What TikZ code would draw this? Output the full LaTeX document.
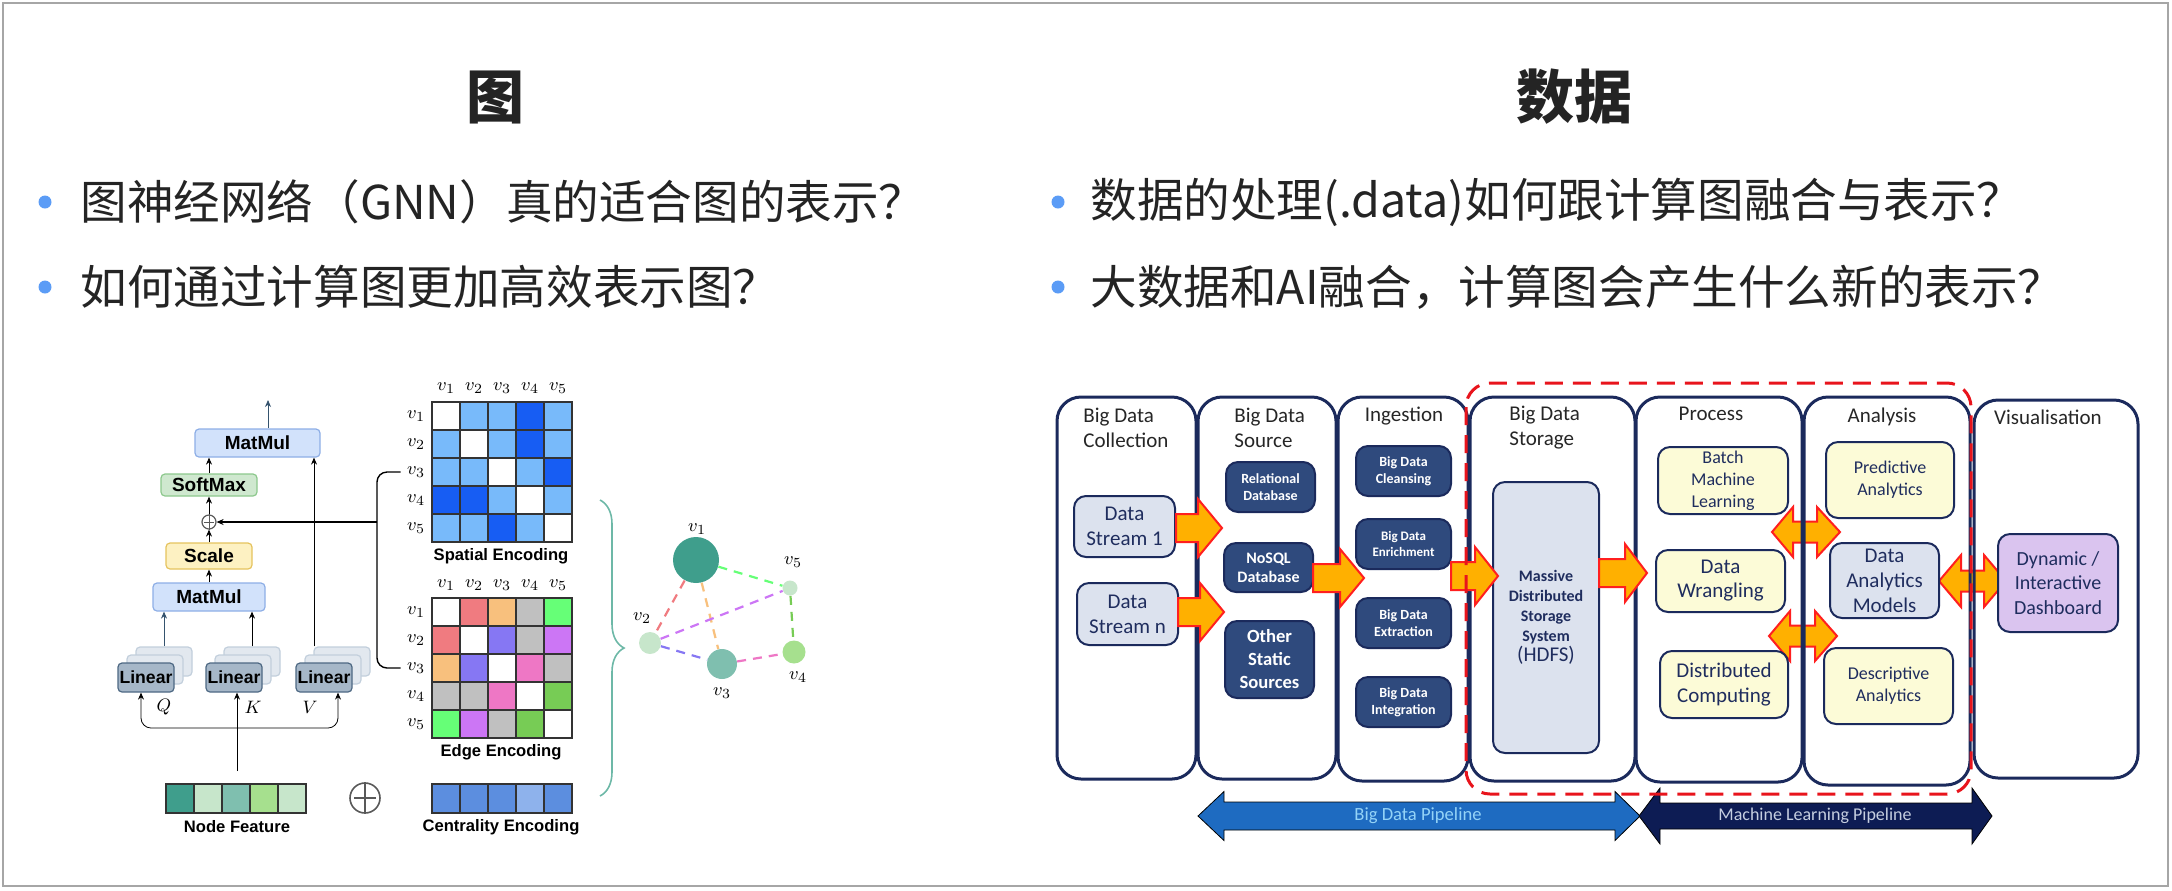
\documentclass[tikz,border=0pt]{standalone}
\usepackage{fontspec}
\usetikzlibrary{arrows.meta, decorations.pathreplacing, positioning}

\newfontfamily\cjk{Noto Sans CJK SC}
\newfontfamily\gfont{Liberation Sans}
\newfontfamily\pfont{Carlito}

\definecolor{ink}{HTML}{242424}
\definecolor{bulletblue}{HTML}{5B9CF6}
\definecolor{mmfill}{HTML}{D2E2FB}
\definecolor{mmedge}{HTML}{8DAEE6}
\definecolor{smfill}{HTML}{CFE8CF}
\definecolor{smedge}{HTML}{8CC88C}
\definecolor{scfill}{HTML}{FDF1C2}
\definecolor{scedge}{HTML}{E5C35E}
\definecolor{linfill}{HTML}{A6B7C8}
\definecolor{linedge}{HTML}{4D6883}
\definecolor{linback}{HTML}{E2E8EF}
\definecolor{linbackedge}{HTML}{C2CFDC}
\definecolor{qarrow}{HTML}{35536E}
\definecolor{nfA}{HTML}{3F9E8C}
\definecolor{nfB}{HTML}{C7E6CB}
\definecolor{nfC}{HTML}{7FBFAF}
\definecolor{nfD}{HTML}{A6E08E}
\definecolor{ceA}{HTML}{5C8EDF}
\definecolor{ceB}{HTML}{8EB2EC}
\definecolor{sL}{HTML}{78BAFA}
\definecolor{sD}{HTML}{175DF3}
\definecolor{eR}{HTML}{F07B80}
\definecolor{eO}{HTML}{F8C07D}
\definecolor{eG}{HTML}{C0C0C0}
\definecolor{eL}{HTML}{66FF77}
\definecolor{eB}{HTML}{8677F3}
\definecolor{eV}{HTML}{CC76F5}
\definecolor{eP}{HTML}{EE77C5}
\definecolor{eM}{HTML}{77CC55}
\definecolor{bracecol}{HTML}{6DB8A7}
\definecolor{navy}{HTML}{1B2A5C}
\definecolor{navytext}{HTML}{1F2D5E}
\definecolor{darkbox}{HTML}{2F4A7D}
\definecolor{lightbox}{HTML}{DCE2EE}
\definecolor{yellowbox}{HTML}{FCFBD7}
\definecolor{lavender}{HTML}{DAC4EF}
\definecolor{orangefill}{HTML}{FFB000}
\definecolor{arrowred}{HTML}{FF1F1F}
\definecolor{dashred}{HTML}{E8141C}
\definecolor{pipeblue}{HTML}{1E6BC1}
\definecolor{pipetext}{HTML}{94D3F7}
\definecolor{pipenavy}{HTML}{0D1C54}
\definecolor{mltext}{HTML}{C5CEE0}

% block arrow: tail x, head base x, tip x, mid y
\newcommand{\fatarrow}[4]{%
  \filldraw[fat] (#1,#4-14) -- (#2,#4-14) -- (#2,#4-29) -- (#3,#4) -- (#2,#4+29) -- (#2,#4+14) -- (#1,#4+14) -- cycle;}
% double block arrow: left tip, left head end, right head start, right tip, y, shaft half, head half
\newcommand{\twinarrow}[8][fat]{%
  \filldraw[#1] (#2,#6) -- (#3,#6-#8) -- (#3,#6-#7) -- (#4,#6-#7) -- (#4,#6-#8) -- (#5,#6)
    -- (#4,#6+#8) -- (#4,#6+#7) -- (#3,#6+#7) -- (#3,#6+#8) -- cycle;}

\begin{document}
\begin{tikzpicture}[x=0.5pt, y=-0.5pt,
    >={Stealth[length=3.5pt, width=3pt]},
    cjkline/.style={anchor=west, inner sep=0pt, text=ink, font=\cjk\fontsize{23.3}{27}\selectfont},
    cjktitle/.style={inner sep=0pt, text=ink, font=\cjk\bfseries\fontsize{29}{32}\selectfont},
    opbox/.style={draw, rounded corners=2pt, line width=0.6pt, inner sep=0pt, font=\gfont\bfseries\fontsize{9.5}{10}\selectfont},
    linbox/.style={opbox, fill=linfill, draw=linedge, minimum width=28pt, minimum height=14.5pt, font=\gfont\bfseries\fontsize{8.8}{10}\selectfont},
    linshadow/.style={opbox, fill=linback, draw=linbackedge, minimum width=28pt, minimum height=14.5pt},
    cell/.style={draw=black!80, line width=0.6pt},
    glab/.style={inner sep=0pt, font=\gfont\bfseries\fontsize{8.3}{10}\selectfont},
    vlab/.style={inner sep=0pt, font=\fontsize{9.5}{10}\selectfont},
    gnode/.style={circle, inner sep=0pt},
    gedge/.style={dash pattern=on 4.5pt off 3.5pt, line width=1.1pt},
    col/.style={draw=navy, line width=1.5pt, rounded corners=12pt, inner sep=0pt},
    ptitle/.style={inner sep=0pt, align=left, text=black!85, font=\pfont\fontsize{10.5}{12.5}\selectfont},
    pbox/.style={draw=navy, line width=1pt, rounded corners=6pt, inner sep=0pt, align=center, text=navytext, font=\pfont\fontsize{10.5}{12.5}\selectfont},
    dbox/.style={pbox, fill=darkbox, text=white, font=\pfont\bfseries\fontsize{7}{8.4}\selectfont},
    fat/.style={fill=orangefill, draw=arrowred, line width=1pt},
  ]
  \useasboundingbox (0,0) rectangle (2172,890);
  \draw[black!35, line width=1pt] (3,3) rectangle (2168,886);

  % Titles and questions
  \node[cjktitle] (tleft) at (495,97) {图};
  \node[cjktitle] (tright) at (1574,97) {数据};
  \fill[bulletblue] (45,202) circle[radius=6.5];
  \fill[bulletblue] (45,287) circle[radius=6.5];
  \fill[bulletblue] (1058,202) circle[radius=6.5];
  \fill[bulletblue] (1058,287) circle[radius=6.5];
  \node[cjkline] (q1) at (80,202) {图神经网络（GNN）真的适合图的表示？};
  \node[cjkline] (q2) at (80,287) {如何通过计算图更加高效表示图？};
  \node[cjkline] (q3) at (1090,202) {数据的处理(.data)如何跟计算图融合与表示？};
  \node[cjkline] (q4) at (1090,287) {大数据和AI融合，计算图会产生什么新的表示？};

  % Attention block
  \node[opbox, fill=mmfill, draw=mmedge, minimum width=62.5pt, minimum height=14pt] (mmtop) at (257.5,443) {MatMul};
  \node[opbox, fill=smfill, draw=smedge, minimum width=48pt, minimum height=11pt] (smax) at (209,485) {SoftMax};
  \node[circle, draw=black!65, line width=0.6pt, minimum size=7pt, inner sep=0pt] (add) at (209,522) {};
  \draw[black!65, line width=0.5pt, shorten >=1.2pt, shorten <=1.2pt] (add.north) -- (add.south) (add.west) -- (add.east);
  \node[opbox, fill=scfill, draw=scedge, minimum width=43pt, minimum height=13pt] (scale) at (209,556) {Scale};
  \node[opbox, fill=mmfill, draw=mmedge, minimum width=56pt, minimum height=14pt] (mmlow) at (209,597) {MatMul};
  \foreach \n/\x in {linq/146, link/234, linv/324} {
    \node[linshadow] (\n2) at (\x+18,661.5) {};
    \node[linshadow] (\n1) at (\x+9,669.5) {};
    \node[linbox] (\n) at (\x,677.5) {Linear};
  }
  \coordinate (attout) at (268,400);
  \coordinate (vfoot) at ([xshift=-14pt]linv2.north);
  \draw[->, qarrow] (attout |- mmtop.north) -- (attout);
  \draw[->] (smax.north) -- (smax.north |- mmtop.south);
  \draw[->] (add.north) -- (smax.south);
  \draw[->] (scale.north) -- (add.south);
  \draw[->] (mmlow.north) -- (scale.south);
  \draw[->, qarrow] (linq2.north) -- (linq2.north |- mmlow.south);
  \draw[->] (link2.north) -- (link2.north |- mmlow.south);
  \draw[->] (vfoot) -- (vfoot |- mmtop.south);
  \node[vlab] (lq) at (164,707) {$Q$};
  \node[vlab] (lk) at (253,707) {$K$};
  \node[vlab] (lv) at (310,707) {$V$};

  % Inputs
  \coordinate (nftop) at (237,771);
  \coordinate (fork) at (237,728);
  \draw[->] (nftop) -- (nftop |- link.south);
  \draw[->, rounded corners=5pt] (fork) -| ([xshift=-2.5pt]linq.south);
  \draw[->, rounded corners=5pt] (fork) -| ([xshift=7pt]linv.south);
  \foreach \c [count=\i from 0] in {nfA,nfB,nfC,nfD,nfB}
    \filldraw[cell, fill=\c] (166+28*\i,784) rectangle ++(28,29);
  \node[glab] (nflab) at (237,827) {Node Feature};
  \node[circle, draw=black!65, line width=0.8pt, minimum size=15pt, inner sep=0pt] (oplus) at (365,798) {};
  \draw[black!65, line width=0.8pt, shorten >=2.5pt, shorten <=2.5pt] (oplus.north) -- (oplus.south) (oplus.west) -- (oplus.east);
  \foreach \c [count=\i from 0] in {ceA,ceA,ceA,ceB,ceA}
    \filldraw[cell, fill=\c] (432+28*\i,784) rectangle ++(28,29);
  \node[glab] (celab) at (501,827) {Centrality Encoding};

  % Spatial and edge encodings
  \foreach \rowc [count=\i from 0] in {{white,sL,sL,sD,sL},{sL,white,sL,sD,sL},{sL,sL,white,sL,sD},{sD,sD,sL,white,sL},{sL,sL,sD,sL,white}}
    \foreach \c [count=\j from 0] in \rowc
      \filldraw[cell, fill=\c] (432+28*\j,402+28*\i) rectangle ++(28,28);
  \foreach \rowc [count=\i from 0] in {{white,eR,eO,eG,eL},{eR,white,eB,eG,eV},{eO,eB,white,eP,eG},{eG,eG,eP,white,eM},{eL,eV,eG,eM,white}}
    \foreach \c [count=\j from 0] in \rowc
      \filldraw[cell, fill=\c] (432+28*\j,598+28*\i) rectangle ++(28,28);
  \foreach \k [count=\i from 0] in {1,...,5} {
    \node[vlab] (sc\k) at (446+28*\i,388) {$v_{\k}$};
    \node[vlab] (sr\k) at (416,416+28*\i) {$v_{\k}$};
    \node[vlab] (ec\k) at (446+28*\i,585) {$v_{\k}$};
    \node[vlab] (er\k) at (416,612+28*\i) {$v_{\k}$};
  }
  \node[glab] (splab) at (501,556) {Spatial Encoding};
  \node[glab] (edlab) at (501,752) {Edge Encoding};
  \coordinate (brk) at (377,522);
  \draw[line width=0.7pt, rounded corners=5pt] ([xshift=-3pt]sr3.west) -- (brk |- sr3.west) -- (brk |- er3.west) -- ([xshift=-3pt]er3.west);
  \draw[->, line width=0.7pt] (brk) -- (add.east);

  % Graph
  \draw[decorate, decoration={brace, amplitude=12pt}, draw=bracecol, line width=0.8pt] (600,500) -- (600,796);
  \node[gnode, fill=nfA, minimum size=23pt] (g1) at (696,560) {};
  \node[gnode, fill=nfB, minimum size=11pt] (g2) at (650,643) {};
  \node[gnode, fill=nfC, minimum size=15pt] (g3) at (722,664) {};
  \node[gnode, fill=nfD, minimum size=11.5pt] (g4) at (794,652) {};
  \node[gnode, fill=nfB, minimum size=7.5pt] (g5) at (790,588) {};
  \draw[gedge, eR] (g1) -- (g2);
  \draw[gedge, eO] (g1) -- (g3);
  \draw[gedge, eL] (g1) -- (g5);
  \draw[gedge, eV] (g2) -- (g5);
  \draw[gedge, eB] (g2) -- (g3);
  \draw[gedge, eP] (g3) -- (g4);
  \draw[gedge, eM] (g5) -- (g4);
  \node[vlab] (gl1) at (697,529) {$v_1$};
  \node[vlab] (gl2) at (642,618) {$v_2$};
  \node[vlab] (gl3) at (722,693) {$v_3$};
  \node[vlab] (gl4) at (798,677) {$v_4$};
  \node[vlab] (gl5) at (793,562) {$v_5$};

  % Pipeline
  \twinarrow{1772}{1793}{1817}{1840}{532}{10.5}{25}
  \twinarrow{1769}{1790}{1815}{1837}{636}{10.5}{25}
  \twinarrow{1939}{1961}{1984}{2006}{581}{10.5}{26}
  \node[col, minimum width=69.5pt, minimum height=191pt] (c1) at (1126.5,588) {};
  \node[col, minimum width=69pt, minimum height=191pt] (c2) at (1267,588) {};
  \node[col, minimum width=65pt, minimum height=192pt] (c3) at (1403,589) {};
  \node[col, minimum width=82.5pt, minimum height=192pt] (c4) at (1552.5,589) {};
  \node[col, minimum width=83pt, minimum height=192.5pt] (c5) at (1719,589.5) {};
  \node[col, minimum width=83pt, minimum height=194pt] (c6) at (1887,591) {};
  \node[col, minimum width=82pt, minimum height=189pt] (c7) at (2056,589) {};
  \node[ptitle, anchor=north west] (t1) at (1083,408) {Big Data\\Collection};
  \node[ptitle, anchor=north west] (t2) at (1234,408) {Big Data\\Source};
  \node[ptitle, anchor=north] (t3) at (1404,407) {Ingestion};
  \node[ptitle, anchor=north west] (t4) at (1509,406) {Big Data\\Storage};
  \node[ptitle, anchor=north] (t5) at (1711,407) {Process};
  \node[ptitle, anchor=north] (t6) at (1882,408) {Analysis};
  \node[ptitle, anchor=north] (t7) at (2048,410) {Visualisation};

  \node[pbox, fill=lightbox, minimum width=50.5pt, minimum height=30.5pt] (s1) at (1124.5,526.5) {Data\\Stream 1};
  \node[pbox, fill=lightbox, minimum width=50.5pt, minimum height=31pt] (sn) at (1127.5,614) {Data\\Stream n};
  \node[dbox, minimum width=44.5pt, minimum height=25pt] (rel) at (1270.5,487) {Relational\\Database};
  \node[dbox, minimum width=44.5pt, minimum height=24.5pt, font=\pfont\bfseries\fontsize{8}{9.7}\selectfont] (nosql) at (1268.5,567.5) {NoSQL\\Database};
  \node[dbox, minimum width=44.5pt, minimum height=38.5pt, font=\pfont\bfseries\fontsize{9.3}{11.5}\selectfont] (other) at (1269.5,659.5) {Other\\Static\\Sources};
  \node[dbox, minimum width=47.5pt, minimum height=25pt] (clean) at (1403.5,471) {Big Data\\Cleansing};
  \node[dbox, minimum width=47.5pt, minimum height=25pt, font=\pfont\bfseries\fontsize{6.5}{8}\selectfont] (enrich) at (1403.5,544) {Big Data\\Enrichment};
  \node[dbox, minimum width=47.5pt, minimum height=25pt] (extract) at (1403.5,623) {Big Data\\Extraction};
  \node[dbox, minimum width=47.5pt, minimum height=25pt] (integ) at (1403.5,702) {Big Data\\Integration};
  \node[pbox, fill=lightbox, minimum width=53pt, minimum height=135.5pt, font=\pfont\bfseries\fontsize{8}{10}\selectfont] (hdfs) at (1546,617.5)
    {Massive\\Distributed\\Storage\\System\\{\mdseries\fontsize{10.5}{11}\selectfont (HDFS)}};
  \node[pbox, fill=yellowbox, minimum width=65pt, minimum height=33.5pt, font=\pfont\fontsize{9}{11}\selectfont] (batch) at (1723,480.5) {Batch\\Machine\\Learning};
  \node[pbox, fill=yellowbox, minimum width=64.5pt, minimum height=31pt, font=\pfont\fontsize{10.5}{12}\selectfont] (wrang) at (1720.5,581) {Data\\Wrangling};
  \node[pbox, fill=yellowbox, minimum width=64pt, minimum height=33.5pt] (distc) at (1724,684.5) {Distributed\\Computing};
  \node[pbox, fill=yellowbox, minimum width=64pt, minimum height=38pt, font=\pfont\fontsize{9}{11}\selectfont] (pred) at (1890,480) {Predictive\\Analytics};
  \node[pbox, fill=lightbox, minimum width=54.5pt, minimum height=37.5pt] (dam) at (1884.5,580.5) {Data\\Analytics\\Models};
  \node[pbox, fill=yellowbox, minimum width=64.5pt, minimum height=38pt, font=\pfont\fontsize{9}{11}\selectfont] (desc) at (1888.5,686) {Descriptive\\Analytics};
  \node[pbox, fill=lavender, minimum width=60pt, minimum height=49pt, font=\pfont\fontsize{10}{12.3}\selectfont] (dash) at (2058,583) {Dynamic /\\Interactive\\Dashboard};

  \fatarrow{1176}{1198}{1222}{528}
  \fatarrow{1178}{1200}{1224}{612}
  \fatarrow{1313}{1340}{1364}{578}
  \fatarrow{1451}{1475}{1498}{576}
  \fatarrow{1599}{1625}{1647}{573}

  \twinarrow[fill=pipeblue]{1198}{1224}{1615}{1640}{816}{14}{24.5}
  \node[text=pipetext, font=\pfont\fontsize{9.3}{10}\selectfont] (bdp) at (1418,816) {Big Data Pipeline};
  \twinarrow[fill=pipenavy]{1639}{1660}{1972}{1992}{816}{13}{28}
  \node[text=mltext, font=\pfont\fontsize{9}{10}\selectfont] (mlp) at (1815,816) {Machine Learning Pipeline};

  \draw[dashred, line width=1.5pt, dash pattern=on 9pt off 5pt, rounded corners=12pt] (1466,383) rectangle (1971,794);
\end{tikzpicture}
\end{document}
